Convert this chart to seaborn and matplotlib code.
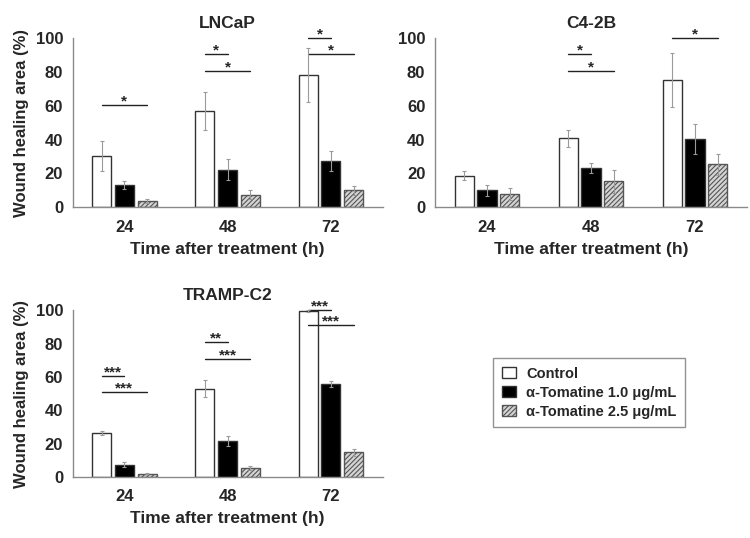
import pandas as pd
import numpy as np
import matplotlib
matplotlib.use("Agg")
import matplotlib.pyplot as plt
import seaborn as sns

# -------------------------------
# data
# -------------------------------
times = ['24', '48', '72']
treatments = ['Control', 'α-Tomatine 1.0 μg/mL', 'α-Tomatine 2.5 μg/mL']

# rows = treatment, columns = time point
lncap_mean = [[30.3, 56.9, 78.0], [13.1, 22.2, 27.3], [3.6, 7.4, 9.9]]
lncap_err = [[9.0, 11.0, 16.0], [2.5, 6.0, 6.0], [1.2, 2.5, 2.8]]
c42b_mean = [[18.6, 40.8, 75.0], [9.9, 23.2, 40.2], [7.9, 15.2, 25.3]]
c42b_err = [[2.8, 5.0, 16.0], [3.4, 3.0, 9.0], [3.4, 6.8, 6.4]]
tramp_mean = [[26.5, 53.0, 99.4], [7.4, 21.5, 55.8], [2.0, 5.6, 14.8]]
tramp_err = [[1.2, 5.0, 0.5], [1.5, 3.0, 2.0], [0.5, 1.2, 2.0]]

# significance brackets: (time index, compared treatment index, y, label)
lncap_sig = [(0, 2, 60.4, '*'), (1, 1, 90.9, '*'), (1, 2, 80.6, '*'),
             (2, 1, 100.0, '*'), (2, 2, 90.9, '*')]
c42b_sig = [(1, 1, 90.9, '*'), (1, 2, 80.6, '*'), (2, 2, 100.4, '*')]
tramp_sig = [(0, 1, 60.4, '***'), (0, 2, 50.8, '***'), (1, 1, 81.0, '**'),
             (1, 2, 71.0, '***'), (2, 1, 100.0, '***'), (2, 2, 91.0, '***')]

panels = [
    ('LNCaP', lncap_mean, lncap_err, lncap_sig, [0.097, 0.615, 0.413, 0.314], True),
    ('C4-2B', c42b_mean, c42b_err, c42b_sig, [0.580, 0.615, 0.416, 0.314], False),
    ('TRAMP-C2', tramp_mean, tramp_err, tramp_sig, [0.097, 0.1134, 0.413, 0.310], True),
]

sns.set_style('white')
plt.rcParams['font.family'] = ['Liberation Sans', 'DejaVu Sans']
plt.rcParams['font.weight'] = 'bold'
plt.rcParams['axes.labelweight'] = 'bold'
plt.rcParams['axes.titleweight'] = 'bold'
plt.rcParams['hatch.linewidth'] = 0.8
plt.rcParams['hatch.color'] = '#333333'

fig = plt.figure(figsize=(7.5, 5.38), dpi=100)
palette = ['white', 'black', '#d4d4d4']
handles = None

for title, mean, err, sig, pos, show_ylabel in panels:
    ax = fig.add_axes(pos)
    df = pd.DataFrame({
        'time': [t for _ in treatments for t in times],
        'treatment': [tr for tr in treatments for _ in times],
        'value': np.ravel(mean),
    })
    sns.barplot(data=df, x='time', y='value', hue='treatment', order=times,
                hue_order=treatments, palette=palette, saturation=1,
                errorbar=None, width=0.66, gap=0.16, legend=False,
                edgecolor='#333333', linewidth=1.0, ax=ax)
    bars = list(ax.containers)

    # hatched bars for the high dose
    for p in bars[2]:
        p.set_hatch('///////')
        p.set_edgecolor('#555555')

    # error bars
    for h, cont in enumerate(bars):
        xs = [p.get_x() + p.get_width() / 2 for p in cont]
        ax.errorbar(xs, mean[h], yerr=err[h], fmt='none', ecolor='#9a9a9a',
                    elinewidth=0.8, capsize=1.5, capthick=0.8, zorder=3)

    # significance lines
    for t, h, y, lab in sig:
        p0 = bars[0][t]
        p1 = bars[h][t]
        x0 = p0.get_x() + p0.get_width() / 2
        x1 = p1.get_x() + p1.get_width() / 2
        ax.plot([x0, x1], [y, y], color='#222222', lw=1.0, clip_on=False)
        ax.annotate(lab, xy=((x0 + x1) / 2, y), xytext=(0, -0.5),
                    textcoords='offset points', ha='center', va='baseline',
                    fontsize=11, annotation_clip=False)

    ax.set_xlim(-0.5, 2.5)
    ax.set_ylim(0, 100)
    ax.set_yticks(range(0, 101, 20))
    ax.tick_params(axis='both', labelsize=12, length=0)
    ax.tick_params(axis='x', pad=9)
    ax.tick_params(axis='y', pad=7)
    sns.despine(ax=ax)
    for s in ['left', 'bottom']:
        ax.spines[s].set_color('#8a8a8a')
        ax.spines[s].set_linewidth(1.0)
    ax.set_title(title, fontsize=12.5, pad=7)
    ax.set_xlabel('Time after treatment (h)', fontsize=12.5, labelpad=5)
    ax.set_ylabel('Wound healing area (%)' if show_ylabel else '',
                  fontsize=12, labelpad=5)
    if handles is None:
        handles = [c[0] for c in bars]

leg = fig.legend(handles=handles, labels=treatments, loc='upper left',
                 bbox_to_anchor=(0.657, 0.335), fontsize=10.5, frameon=True,
                 fancybox=False, handlelength=1.0, handleheight=0.8,
                 handletextpad=0.7, labelspacing=0.35, borderpad=0.6,
                 borderaxespad=0)
leg.get_frame().set_edgecolor('#777777')
leg.get_frame().set_linewidth(1.0)

plt.savefig('out.png', dpi=100)
